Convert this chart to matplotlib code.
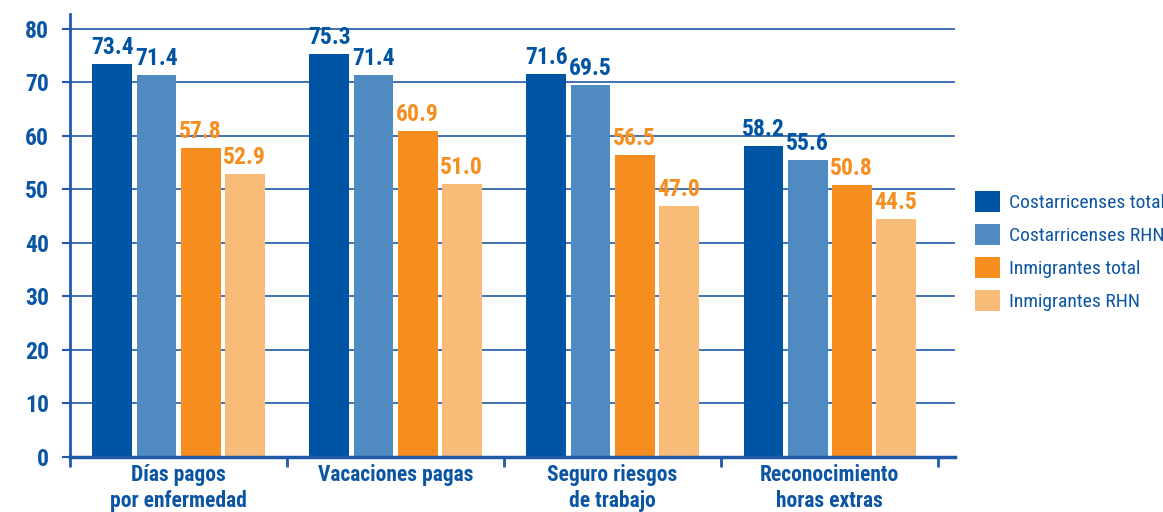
import matplotlib
matplotlib.use("Agg")
import matplotlib.pyplot as plt
from matplotlib import font_manager
import numpy as np

# --- data -------------------------------------------------------------
categories = ["Días pagos\npor enfermedad", "Vacaciones pagas",
              "Seguro riesgos\nde trabajo", "Reconocimiento\nhoras extras"]
series_names = ["Costarricenses total", "Costarricenses RHN",
                "Inmigrantes total", "Inmigrantes RHN"]
cr_total = [73.4, 75.3, 71.6, 58.2]
cr_rhn = [71.4, 71.4, 69.5, 55.6]
inm_total = [57.8, 60.9, 56.5, 50.8]
inm_rhn = [52.9, 51.0, 47.0, 44.5]
y_ticks = [0, 10, 20, 30, 40, 50, 60, 70, 80]

# --- style ------------------------------------------------------------
bar_colors = ["#0054a4", "#4f8bc1", "#f68e1f", "#f9bb78"]
label_colors = ["#0054a4", "#0054a4", "#f68e1f", "#f68e1f"]
axis_blue = "#1f5aa8"
text_blue = "#0b55a3"

# pick a narrow sans face if one is available
names = {f.name for f in font_manager.fontManager.ttflist}
family = "DejaVu Sans"
stretch = "normal"
for cand in ["Roboto Condensed", "Liberation Sans Narrow", "Open Sans Condensed"]:
    if cand in names:
        family = cand
        break
else:
    cond = [f for f in font_manager.fontManager.ttflist
            if f.name == "DejaVu Sans" and f.stretch == "condensed"]
    if cond:
        stretch = "condensed"
plt.rcParams["font.family"] = [family, "DejaVu Sans"]
plt.rcParams["font.stretch"] = stretch

fig = plt.figure(figsize=(11.63, 5.12), dpi=100)
ax = fig.add_axes([70 / 1163, 1 - 457 / 512, 885 / 1163, 443 / 512])

values = [cr_total, cr_rhn, inm_total, inm_rhn]
x = np.arange(len(categories))
step = 0.203
width = 0.184
for i, (vals, name) in enumerate(zip(values, series_names)):
    xs = x + (i - 1.5) * step
    ax.bar(xs, vals, width=width, color=bar_colors[i], label=name, zorder=3)
    for xi, v in zip(xs, vals):
        ax.text(xi, v + 0.9, f"{v:.1f}", ha="center", va="bottom",
                color=label_colors[i], fontsize=17, fontweight="bold",
                zorder=4)

ax.set_xlim(-0.5, 3.578)
ax.set_ylim(0, 82.8)

# y axis
ax.set_yticks(y_ticks)
ax.set_yticklabels([str(t) for t in y_ticks], fontsize=17, fontweight="bold",
                   color=text_blue)
ax.tick_params(axis="y", length=6, width=1.5, color=axis_blue, pad=9)
for t in y_ticks[1:]:
    ax.axhline(t, color=axis_blue, lw=1.2, zorder=1)

# x axis: category labels centred, ticks on group boundaries
ax.set_xticks(x)
ax.set_xticklabels(categories, fontsize=15.5, fontweight="bold", color=text_blue,
                   linespacing=1.25)
ax.tick_params(axis="x", which="major", length=0, pad=5)
ax.set_xticks(np.arange(-0.5, 4.0, 1.0), minor=True)
ax.tick_params(axis="x", which="minor", length=7, width=2, color=axis_blue,
               direction="out")

for side in ["top", "right"]:
    ax.spines[side].set_visible(False)
ax.spines["left"].set_color(axis_blue)
ax.spines["left"].set_linewidth(2)
ax.spines["bottom"].set_color(axis_blue)
ax.spines["bottom"].set_linewidth(2.5)
ax.spines["bottom"].set_zorder(5)

leg = fig.legend(loc="center left", bbox_to_anchor=(975 / 1163, 1 - 251 / 512),
                 frameon=False, fontsize=14, handlelength=1.3, handleheight=1.3,
                 handletextpad=0.45, labelspacing=0.6, borderpad=0,
                 borderaxespad=0)
for txt in leg.get_texts():
    txt.set_color(text_blue)

fig.savefig("out.png", dpi=100)
